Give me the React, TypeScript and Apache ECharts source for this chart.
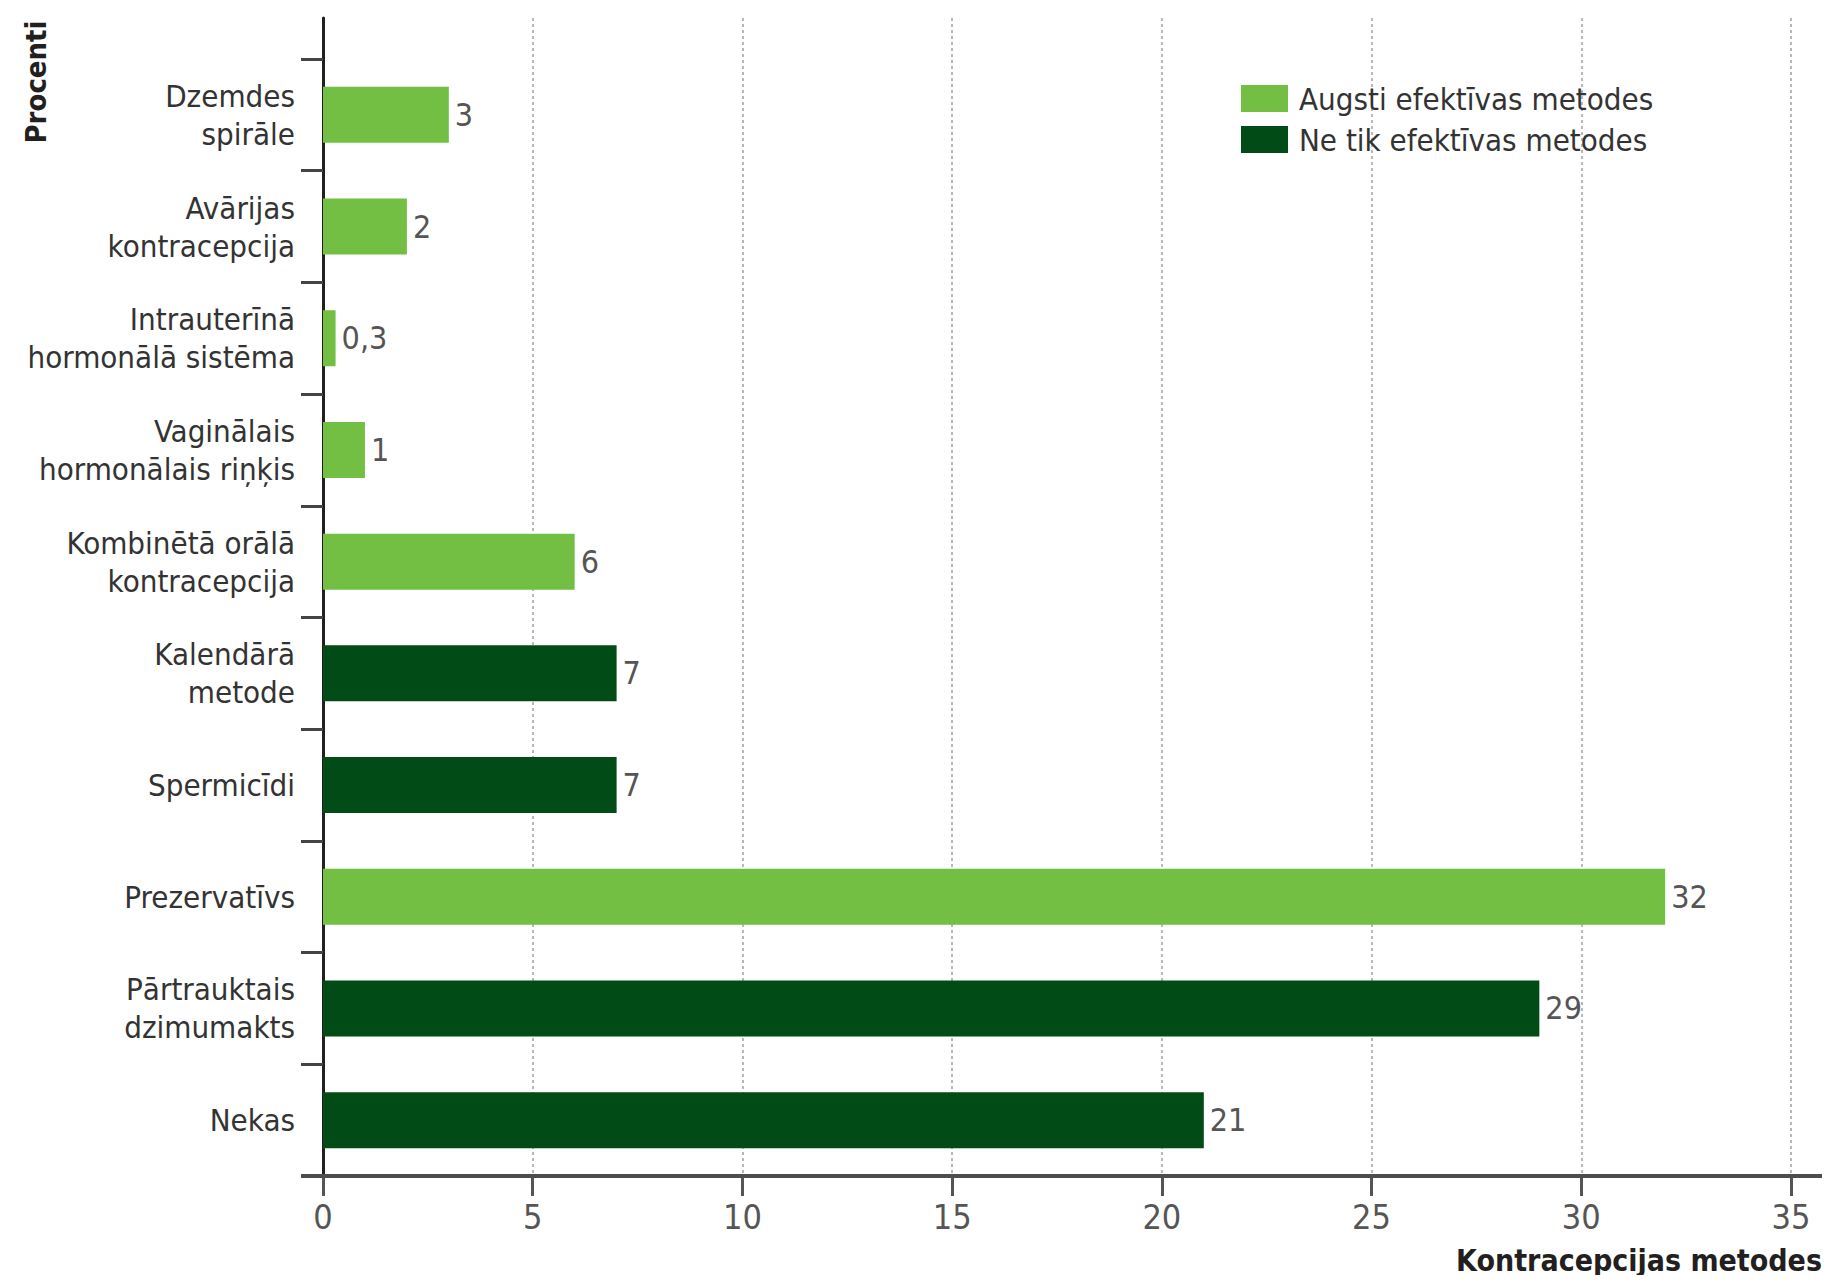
import React, { useEffect, useRef } from "react";
import * as echarts from "echarts";

const categories = [
  "Dzemdes\nspirāle",
  "Avārijas\nkontracepcija",
  "Intrauterīnā\nhormonālā sistēma",
  "Vaginālais\nhormonālais riņķis",
  "Kombinētā orālā\nkontracepcija",
  "Kalendārā\nmetode",
  "Spermicīdi",
  "Prezervatīvs",
  "Pārtrauktais\ndzimumakts",
  "Nekas",
];
const values = [3, 2, 0.3, 1, 6, 7, 7, 32, 29, 21];
const isHighlyEffective = [true, true, true, true, true, false, false, true, false, false];
const seriesNames = ["Augsti efektīvas metodes", "Ne tik efektīvas metodes"];
const xTicks = { min: 0, max: 35, interval: 5 };
const yAxisTitle = "Procenti";
const xAxisTitle = "Kontracepcijas metodes";

const FONT = "'Liberation Sans Narrow', 'DejaVu Sans Condensed', 'Arial Narrow', sans-serif";
const LIGHT = "#72bf44";
const DARK = "#004b16";

export default function App() {
  const ref = useRef<HTMLDivElement>(null);
  useEffect(() => {
    if (!ref.current) return;
    const chart = echarts.init(ref.current, undefined, { renderer: "svg" });
    const high = values.map((v, i) => (isHighlyEffective[i] ? v : "-"));
    const low = values.map((v, i) => (!isHighlyEffective[i] ? v : "-"));
    const label = {
      show: true,
      position: "right",
      distance: 6,
      fontFamily: FONT,
      fontSize: 32,
      color: "#555",
      formatter: (p: any) => String(p.value).replace(".", ","),
    };
    const L = 323, R = 39, T0 = 59, T1 = 18, B = 107;
    chart.setOption({
      animation: false,
      backgroundColor: "#fff",
      textStyle: { fontFamily: FONT },
      grid: [
        { left: L, right: R, top: T0, bottom: B, containLabel: false, outerBoundsMode: "none" },
        { left: L, right: R, top: T1, bottom: B, containLabel: false, outerBoundsMode: "none" },
      ],
      legend: {
        orient: "vertical",
        left: 1236,
        top: 78,
        itemWidth: 47,
        itemHeight: 27,
        itemGap: 10,
        icon: "rect",
        data: seriesNames,
        textStyle: { fontFamily: FONT, fontSize: 31, color: "#333", padding: [0, 0, 0, 6] },
      },
      xAxis: [
        { gridIndex: 0, type: "value", min: xTicks.min, max: xTicks.max, interval: xTicks.interval, show: false },
        {
          gridIndex: 1,
          type: "value",
          min: xTicks.min,
          max: xTicks.max,
          interval: xTicks.interval,
          axisLine: { show: false },
          axisTick: { show: true, length: 20, lineStyle: { color: "#555", width: 3 } },
          axisLabel: { fontFamily: FONT, fontSize: 34, color: "#555", margin: 24 },
          splitLine: { show: true, lineStyle: { color: "#b8b8b8", width: 2, type: [3, 3] } },
        },
      ],
      yAxis: [
        {
          gridIndex: 0,
          type: "category",
          inverse: true,
          data: categories,
          axisLine: { show: false },
          axisTick: { show: true, length: 22, interval: 0, lineStyle: { color: "#444", width: 3 } },
          axisLabel: {
            interval: 0,
            margin: 28,
            fontFamily: FONT,
            fontSize: 31,
            lineHeight: 38,
            color: "#333",
            align: "right",
          },
          splitLine: { show: false },
        },
        {
          gridIndex: 1,
          type: "value",
          min: 0,
          max: 1,
          axisLine: { show: true, lineStyle: { color: "#231f20", width: 3 } },
          axisTick: { show: false },
          axisLabel: { show: false },
          splitLine: { show: false },
        },
      ],
      series: [
        {
          name: seriesNames[0],
          type: "bar",
          xAxisIndex: 0,
          yAxisIndex: 0,
          data: high,
          barWidth: 56,
          barGap: "-100%",
          itemStyle: { color: LIGHT },
          label,
        },
        {
          name: seriesNames[1],
          type: "bar",
          xAxisIndex: 0,
          yAxisIndex: 0,
          data: low,
          barWidth: 56,
          barGap: "-100%",
          itemStyle: { color: DARK },
          label,
        },
      ],
      graphic: [
        {
          type: "line",
          shape: { x1: 301, y1: 1176, x2: 1830, y2: 1176 },
          style: { stroke: "#4d4d4d", lineWidth: 4 },
          z: 10,
        },
        {
          type: "text",
          x: 36,
          y: 82,
          rotation: Math.PI / 2,
          style: {
            text: yAxisTitle,
            fontFamily: FONT,
            fontWeight: "bold",
            fontSize: 29,
            fill: "#231f20",
            align: "center",
            verticalAlign: "middle",
          },
        },
        {
          type: "text",
          x: 1822,
          y: 1260,
          style: {
            text: xAxisTitle,
            fontFamily: FONT,
            fontWeight: "bold",
            fontSize: 30,
            fill: "#231f20",
            align: "right",
            verticalAlign: "middle",
          },
        },
      ],
    });
    return () => chart.dispose();
  }, []);
  return <div ref={ref} style={{ width: 1830, height: 1283, margin: -8 }} />;
}
